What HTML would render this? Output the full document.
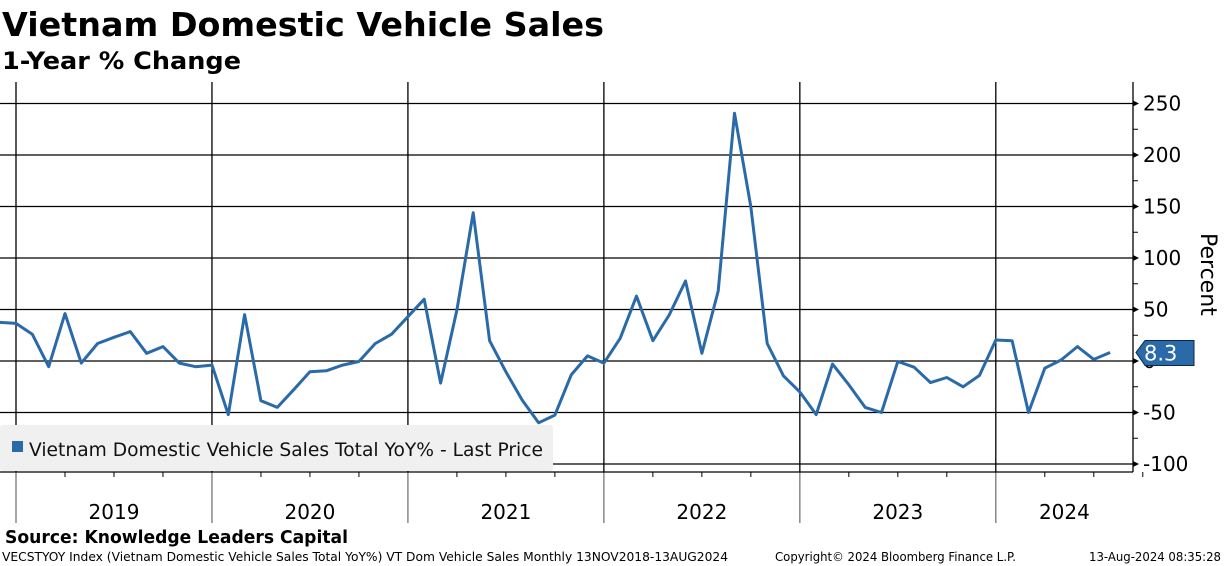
<!DOCTYPE html>
<html><head><meta charset="utf-8"><style>
html,body{margin:0;padding:0;background:#fff;}
svg{display:block;font-family:"DejaVu Sans","Liberation Sans",sans-serif;}
</style></head><body>
<svg id="chart" width="1224" height="566" viewBox="0 0 1224 566">
<text x="2" y="36" font-size="33" font-weight="bold" textLength="602" lengthAdjust="spacingAndGlyphs">Vietnam Domestic Vehicle Sales</text>
<text x="2" y="69" font-size="24" font-weight="bold" textLength="239" lengthAdjust="spacingAndGlyphs">1-Year % Change</text>
<g id="grid"></g>
<g id="legend">
<rect x="0" y="425" width="553" height="46" rx="3" fill="#f0f0f0"/>
<rect x="12" y="441" width="11" height="11" fill="#2a6aa8"/>
<text x="29" y="456" font-size="19" fill="#111" textLength="514" lengthAdjust="spacingAndGlyphs">Vietnam Domestic Vehicle Sales Total YoY% - Last Price</text>
</g>
<g id="series"></g>
<g id="axes"></g>
<text x="5" y="543" font-size="18" font-weight="bold" textLength="343" lengthAdjust="spacingAndGlyphs">Source: Knowledge Leaders Capital</text>
<text x="2" y="561" font-size="12" textLength="726" lengthAdjust="spacingAndGlyphs">VECSTYOY Index (Vietnam Domestic Vehicle Sales Total YoY%) VT Dom Vehicle Sales  Monthly 13NOV2018-13AUG2024</text>
<text x="775" y="561" font-size="12" textLength="241" lengthAdjust="spacingAndGlyphs">Copyright© 2024 Bloomberg Finance L.P.</text>
<text x="1089" y="561" font-size="12" textLength="132" lengthAdjust="spacingAndGlyphs">13-Aug-2024 08:35:28</text>
</svg>
<script>
const years = [2019, 2020, 2021, 2022, 2023, 2024];
const yTicks = [250, 200, 150, 100, 50, 0, -50, -100];
// monthly values Dec 2018 .. Aug 2024
const values = [37.5,36.5,26,-5.5,46,-2,17,23,28.5,7.5,14,-2,-5.5,
 -4,-52,45,-38.5,-45,-28,-10.5,-9.5,-4,-0.5,17,26,
 43,60,-21.5,49.5,144,19.7,-10.5,-38,-60,-52.5,-13.5,5,
 -2,22,63,19.7,44.7,77.7,7.5,68,240.5,150,17,-14.5,
 -30,-52,-3,-23,-45,-50,-0.5,-6,-21,-16,-25,-14,
 20.4,19.7,-50,-7,1,14,1.6,8.3];
const lastValue = "8.3";

const NS="http://www.w3.org/2000/svg";
const X0=16, MW=16.33, AX=1133, PT=82, PB=472;
function xMonth(i){return X0+i*MW;} // i=0 -> Jan 2019
function yVal(v){return 361-v*51.5/50;}
function mk(tag,attrs,parent){const e=document.createElementNS(NS,tag);for(const k in attrs)e.setAttribute(k,attrs[k]);parent.appendChild(e);return e;}
const grid=document.getElementById('grid'),axes=document.getElementById('axes'),series=document.getElementById('series');

yTicks.forEach(v=>{
  const l=mk('line',{x1:0,x2:AX,y1:yVal(v),y2:yVal(v),stroke:'#000','stroke-width':1.3},grid);
  
  
  const t=mk('path',{d:`M${AX} ${yVal(v)-3}L${AX+6} ${yVal(v)}L${AX} ${yVal(v)+3}Z`,fill:'#000'},axes);
  
  
  const tx=mk('text',{x:AX+10,y:yVal(v)+7,'font-size':20},axes);
  tx.textContent=String(v).replace('-','-');
  
  
});
for(let v=-100;v<=250;v+=25){ if(v%50===0)continue;
  const m=mk('line',{x1:AX,x2:AX+5,y1:yVal(v),y2:yVal(v),stroke:'#000','stroke-width':1},axes);
  
  
}
years.forEach((yr,k)=>{
  const x=xMonth(k*12);
  const g=mk('line',{x1:x,x2:x,y1:PT,y2:PB,stroke:'#000','stroke-width':1.3},grid);
  
  
  const s=mk('line',{x1:x,x2:x,y1:PB,y2:523,stroke:'#777','stroke-width':1.3},axes);
  
  
  for(let q=1;q<4;q++){
    const qt=mk('line',{x1:xMonth(k*12+q*3),x2:xMonth(k*12+q*3),y1:PB,y2:PB+5,stroke:'#000','stroke-width':1},axes);
    
    
  }
  const cx = k<5 ? xMonth(k*12+6) : (xMonth(60)+AX)/2;
  const t=mk('text',{x:cx,y:519,'font-size':20,'text-anchor':'middle'},axes);
  t.textContent=yr;
  
  
});
const xl=mk('line',{x1:0,x2:AX,y1:PB,y2:PB,stroke:'#000','stroke-width':1.3},axes);


const yl=mk('line',{x1:AX,x2:AX,y1:PT,y2:PB,stroke:'#000','stroke-width':1.3},axes);


const yt=mk('text',{x:0,y:0,'font-size':22,transform:'translate(1201,233) rotate(90)'},axes);
yt.textContent='Percent';



const pts=values.map((v,i)=>`${xMonth(i-1).toFixed(1)},${yVal(v).toFixed(1)}`).join(' ');
const pl=mk('polyline',{points:pts,fill:'none',stroke:'#2a6aa8','stroke-width':3,'stroke-linejoin':'round'},series);



const ly=yVal(values[values.length-1]);
const lb=mk('path',{d:`M1136 ${ly}L1145 ${ly-12}L1194 ${ly-12}L1194 ${ly+13}L1145 ${ly+13}Z`,fill:'#2a6aa8',stroke:'#0b2a4a','stroke-width':1},axes);


const lt=mk('text',{x:1144,y:ly+8,'font-size':21,fill:'#fff'},axes);
lt.textContent=lastValue;


</script>
</body></html>
